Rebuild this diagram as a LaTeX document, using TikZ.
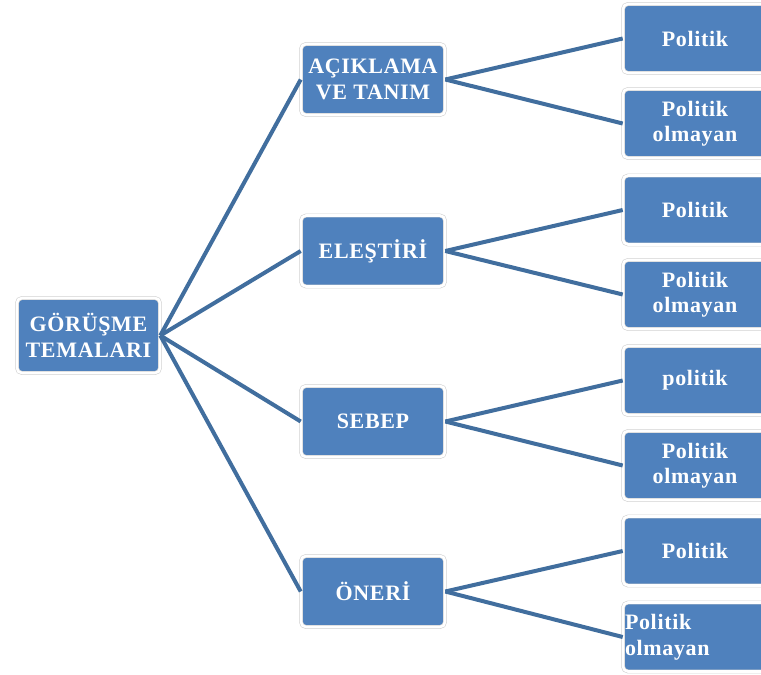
\documentclass[tikz,border=0pt]{standalone}
\usepackage{fontspec}
\setmainfont[LetterSpace=3]{Liberation Serif}
\definecolor{boxblue}{RGB}{79,129,189}
\definecolor{linkblue}{RGB}{65,110,158}
\tikzset{
  tema/.style={rectangle, rounded corners=5pt, fill=boxblue, draw=black!18,
    double=white, double distance=2.6pt, line width=0.6pt,
    minimum width=144pt, minimum height=71pt, inner sep=2pt,
    text=white, align=center, font=\fontsize{22}{25.5}\selectfont\bfseries},
  alt/.style={tema, minimum height=69pt},
  link/.style={linkblue, line width=4pt}
}
\begin{document}
\begin{tikzpicture}[x=1pt,y=-1pt]
    \useasboundingbox (0,0) rectangle (761,675);
    % kok
    \node[tema, minimum width=143pt, minimum height=75pt] (root) at (88.5,335.5) {GÖRÜŞME\\TEMALARI};
    % birinci duzey
    \node[tema] (acik)  at (373,79.5)  {AÇIKLAMA\\VE TANIM};
    \node[tema] (elest) at (373,251)   {ELEŞTİRİ};
    \node[tema] (sebep) at (373,421.5) {SEBEP};
    \node[tema] (oneri) at (373,591.5) {ÖNERİ};
    % ikinci duzey
    \node[alt] (acikA)  at (695,38.5)  {Politik};
    \node[alt] (acikB)  at (695,123.5) {Politik\\olmayan};
    \node[alt] (elestA) at (695,210)   {Politik};
    \node[alt] (elestB) at (695,294.5) {Politik\\olmayan};
    \node[alt] (sebepA) at (695,380.5) {politik};
    \node[alt] (sebepB) at (695,465.5) {Politik\\olmayan};
    \node[alt] (oneriA) at (695,551)   {Politik};
    \node[alt, align=left, text width=140pt, inner sep=0pt] (oneriB) at (695,637) {Politik\\olmayan};
    % baglantilar
    \foreach \t in {acik,elest,sebep,oneri} {
      \draw[link] (root.east) -- (\t.west);
      \draw[link] (\t.east) -- (\t A.west);
      \draw[link] (\t.east) -- (\t B.west);
    }
\end{tikzpicture}
\end{document}
